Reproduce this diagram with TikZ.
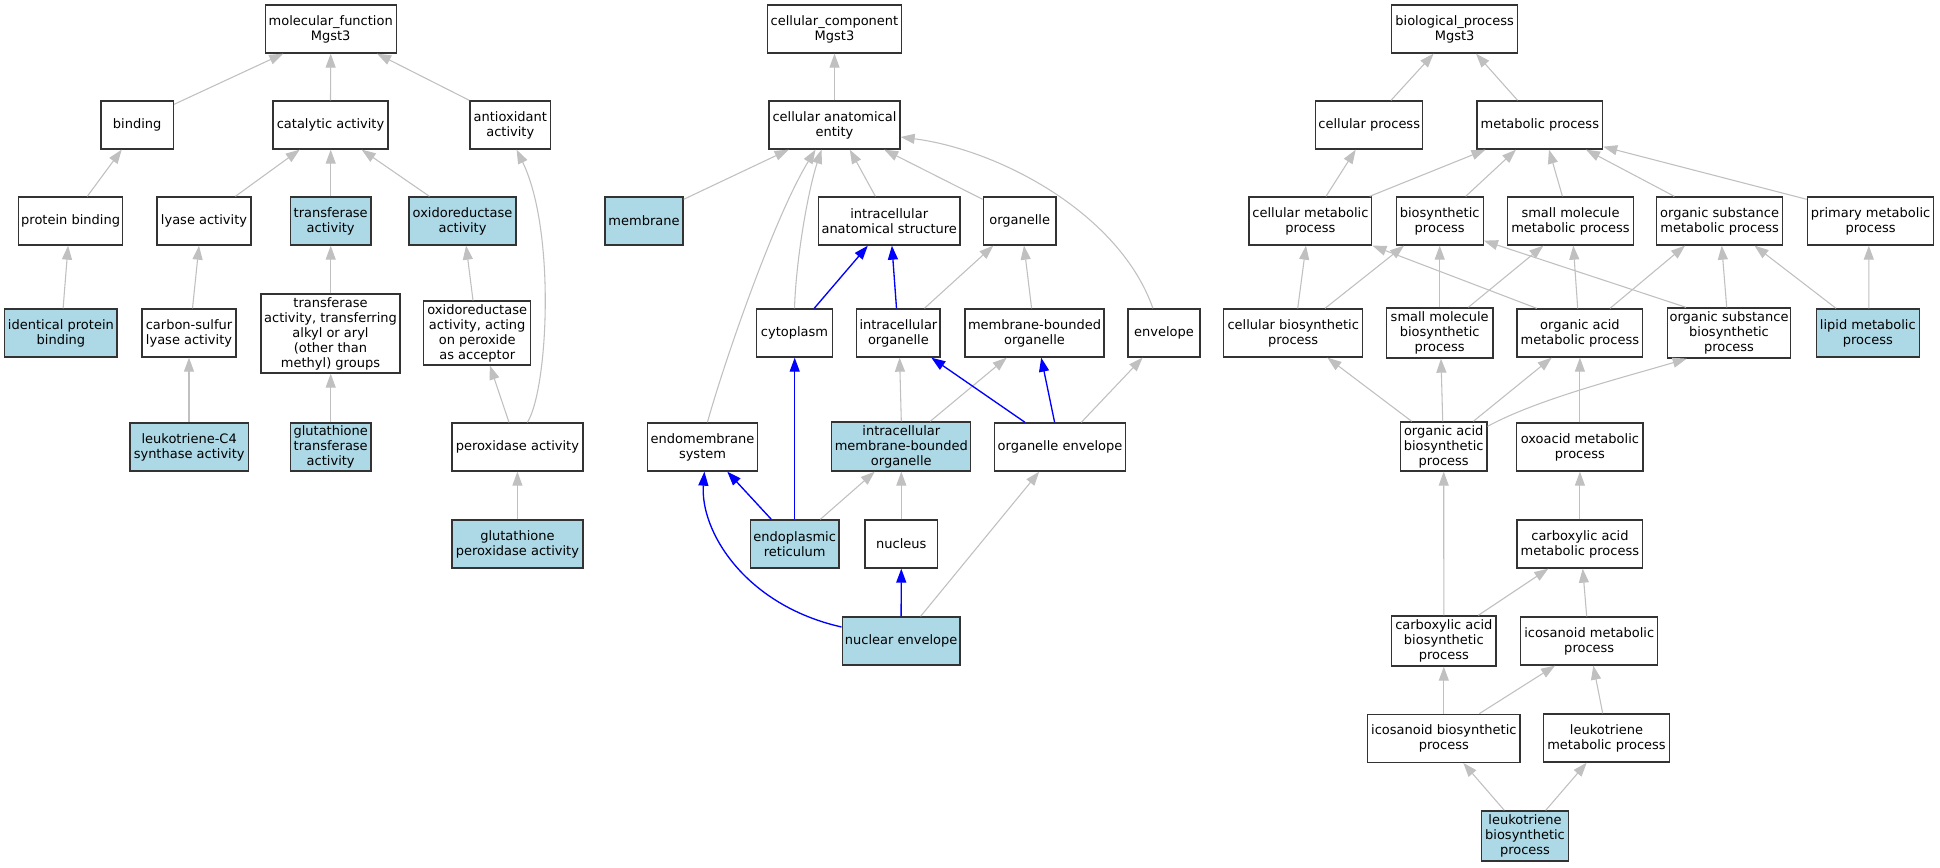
\documentclass[tikz,border=0pt]{standalone}
\usepackage{fontspec}
\setmainfont{DejaVu Sans}
\usetikzlibrary{arrows.meta,calc}
\definecolor{edgegray}{RGB}{192,192,192}
\definecolor{lb}{RGB}{173,216,230}
\tikzset{
  nd/.style={draw=black!80, line width=1pt, fill=white, inner sep=0pt, align=center,
    font=\fontsize{9.75}{11.25}\selectfont},
  hl/.style={fill=lb},
  bx/.style 2 args={minimum width={#1*0.75pt}, minimum height={#2*0.75pt}},
  ge/.style={draw=edgegray, line width=0.8pt, -{Triangle[length=10.5pt,width=7.5pt]}},
  be/.style={draw=blue, line width=1pt, -{Triangle[length=10.5pt,width=7.5pt]}}
}
\begin{document}
\begin{tikzpicture}[x=0.75pt,y=-0.75pt]
\useasboundingbox (0,0) rectangle (1940,867);
\fill[white] (0,0) rectangle (1940,867);

% ---------------- molecular function ----------------
\node[nd,bx={131}{48}] (mf) at (330.7,29) {molecular\_function\\Mgst3};
\node[nd,bx={72.4}{48}] (binding) at (137.2,125) {binding};
\node[nd,bx={115}{48}] (catalytic) at (330.5,125) {catalytic activity};
\node[nd,bx={80.7}{48}] (antiox) at (510.3,125) {antioxidant\\activity};
\node[nd,bx={104.4}{48}] (protbind) at (70.6,221) {protein binding};
\node[nd,bx={94}{48}] (lyase) at (204,221) {lyase activity};
\node[nd,hl,bx={80.3}{48}] (transf) at (330.7,221) {transferase\\activity};
\node[nd,hl,bx={106.8}{48}] (oxidored) at (462.5,221) {oxidoreductase\\activity};
\node[nd,hl,bx={112.5}{48}] (identical) at (60.9,333) {identical protein\\binding};
\node[nd,bx={94}{48}] (csulfur) at (189,333) {carbon-sulfur\\lyase activity};
\node[nd,bx={139}{79}] (transtrans) at (330.5,333.5) {transferase\\activity, transferring\\alkyl or aryl\\(other than\\methyl) groups};
\node[nd,bx={107.2}{64}] (oxacting) at (477.2,333) {oxidoreductase\\activity, acting\\on peroxide\\as acceptor};
\node[nd,hl,bx={118.3}{48}] (ltc4) at (189.2,447) {leukotriene-C4\\synthase activity};
\node[nd,hl,bx={80.3}{48}] (gstrans) at (330.7,447) {glutathione\\transferase\\activity};
\node[nd,bx={131}{48}] (perox) at (517.4,447) {peroxidase activity};
\node[nd,hl,bx={131}{48}] (gsperox) at (517.4,544) {glutathione\\peroxidase activity};

% ---------------- cellular component ----------------
\node[nd,bx={134}{48}] (cc) at (834.5,29) {cellular\_component\\Mgst3};
\node[nd,bx={131}{48}] (cae) at (834.5,125) {cellular anatomical\\entity};
\node[nd,hl,bx={78}{48}] (membrane) at (644,221) {membrane};
\node[nd,bx={141.6}{48}] (ias) at (889.2,221) {intracellular\\anatomical structure};
\node[nd,bx={72.7}{48}] (organelle) at (1019.7,221) {organelle};
\node[nd,bx={75.4}{48}] (cytoplasm) at (794.5,333) {cytoplasm};
\node[nd,bx={83.4}{48}] (intorg) at (898.4,333) {intracellular\\organelle};
\node[nd,bx={139}{48}] (mbo) at (1034.5,333) {membrane-bounded\\organelle};
\node[nd,bx={72}{48}] (envelope) at (1164,333) {envelope};
\node[nd,bx={109.5}{48}] (endomem) at (702.5,447) {endomembrane\\system};
\node[nd,hl,bx={139}{49}] (imbo) at (901.3,446.5) {intracellular\\membrane-bounded\\organelle};
\node[nd,bx={130.8}{48}] (orgenv) at (1060,447) {organelle envelope};
\node[nd,hl,bx={88.8}{48}] (er) at (794.7,544) {endoplasmic\\reticulum};
\node[nd,bx={72.3}{48}] (nucleus) at (901.3,544) {nucleus};
\node[nd,hl,bx={117.8}{48}] (nucenv) at (901.1,641) {nuclear envelope};

% ---------------- biological process ----------------
\node[nd,bx={126}{48}] (bp) at (1454.6,29) {biological\_process\\Mgst3};
\node[nd,bx={107}{48}] (cellproc) at (1369.2,125) {cellular process};
\node[nd,bx={125.5}{48}] (metproc) at (1539.8,125) {metabolic process};
\node[nd,bx={122.8}{48}] (cellmet) at (1310.4,221) {cellular metabolic\\process};
\node[nd,bx={87}{48}] (biosyn) at (1439.7,221) {biosynthetic\\process};
\node[nd,bx={125.5}{48}] (smallmet) at (1570.5,221) {small molecule\\metabolic process};
\node[nd,bx={125.6}{48}] (orgsubmet) at (1719.6,221) {organic substance\\metabolic process};
\node[nd,bx={126.4}{48}] (primmet) at (1870.6,221) {primary metabolic\\process};
\node[nd,bx={139.2}{48}] (cellbio) at (1293.2,333) {cellular biosynthetic\\process};
\node[nd,bx={106.6}{50}] (smallbio) at (1439.7,333) {small molecule\\biosynthetic\\process};
\node[nd,bx={125.6}{48}] (orgacidmet) at (1579.9,333) {organic acid\\metabolic process};
\node[nd,bx={122.7}{50}] (orgsubbio) at (1729,333) {organic substance\\biosynthetic\\process};
\node[nd,hl,bx={103}{48}] (lipid) at (1867.8,333) {lipid metabolic\\process};
\node[nd,bx={86.3}{49}] (orgacidbio) at (1443.7,446.5) {organic acid\\biosynthetic\\process};
\node[nd,bx={126.4}{48}] (oxoacid) at (1579.9,447) {oxoacid metabolic\\process};
\node[nd,bx={125.6}{48}] (carbmet) at (1579.9,544) {carboxylic acid\\metabolic process};
\node[nd,bx={104.3}{50}] (carbbio) at (1443.8,641) {carboxylic acid\\biosynthetic\\process};
\node[nd,bx={137}{48}] (icomet) at (1589.2,641) {icosanoid metabolic\\process};
\node[nd,bx={152.3}{48}] (icobio) at (1443.8,738.3) {icosanoid biosynthetic\\process};
\node[nd,bx={125.6}{48}] (ltmet) at (1606.5,738) {leukotriene\\metabolic process};
\node[nd,hl,bx={86.6}{50}] (ltbio) at (1525,836) {leukotriene\\biosynthetic\\process};

% ---------------- MF edges ----------------
\draw[ge] ($(binding.north east)+(0,4)$) -- ($(mf.south)+(-47.5,0)$);
\draw[ge] (catalytic.north) -- (mf.south);
\draw[ge] (antiox.north west) -- ($(mf.south)+(46.3,0)$);
\draw[ge] ($(protbind.north)+(16.7,0)$) -- ($(binding.south)+(-15.5,0)$);
\draw[ge] ($(lyase.north)+(31.4,0)$) -- ($(catalytic.south)+(-30.8,0)$);
\draw[ge] (transf.north) -- (transf.north |- catalytic.south);
\draw[ge] ($(oxidored.north)+(-33.1,0)$) -- ($(catalytic.south)+(31.2,0)$);
\draw[ge] ($(identical.north)+(2.2,0)$) -- ($(protbind.south)+(-2.5,0)$);
\draw[ge] ($(csulfur.north)+(3.5,0)$) -- ($(lyase.south)+(-5,0)$);
\draw[ge] (transf.south |- transtrans.north) -- (transf.south);
\draw[ge] ($(oxacting.north)+(-4.2,0)$) -- ($(oxidored.south)+(3.6,0)$);
\draw[ge] ($(perox.north)+(10,0)$) .. controls ($(perox.north)+(30.6,-33)$) and ($(antiox.south)+(45.7,81)$) .. ($(antiox.south)+(6.3,0)$);
\draw[ge] (csulfur.south |- ltc4.north) -- (csulfur.south);
\draw[ge] (gstrans.north) -- (gstrans.north |- transtrans.south);
\draw[ge] ($(perox.north)+(-8.4,0)$) -- ($(oxacting.south)+(12.7,0)$);
\draw[ge] (gsperox.north) -- (perox.south);

% ---------------- CC edges (gray) ----------------
\draw[ge] (cae.north) -- (cc.south);
\draw[ge] ($(membrane.north east)+(0,3)$) -- ($(cae.south)+(-45.9,0)$);
\draw[ge] ($(endomem.north)+(4.9,0)$) .. controls ($(endomem.north)+(22.5,-63)$) and ($(cae.south)+(-59.5,66)$) .. ($(cae.south)+(-19,0)$);
\draw[ge] (cytoplasm.north) .. controls ($(cytoplasm.north)+(1.5,-49)$) and ($(cae.south)+(-26.5,41)$) .. ($(cae.south)+(-13,0)$);
\draw[ge] ($(ias.north)+(-13.8,0)$) -- ($(cae.south)+(15.3,0)$);
\draw[ge] ($(organelle.north west)+(0,3)$) -- ($(cae.south)+(49.7,0)$);
\draw[ge] ($(envelope.north)+(-11.1,0)$) .. controls ($(envelope.north)+(-44,-94)$) and ($(cae.east)+(100,25)$) .. ($(cae.east)+(0,12)$);
\draw[ge] ($(intorg.north)+(26,0)$) -- ($(organelle.south)+(-26.4,0)$);
\draw[ge] ($(mbo.north)+(-2.9,0)$) -- ($(organelle.south)+(4.3,0)$);
\draw[ge] ($(er.north)+(25.6,0)$) -- ($(imbo.south)+(-26.6,0)$);
\draw[ge] (nucleus.north) -- (imbo.south);
\draw[ge] (imbo.north) -- ($(intorg.south)+(1.2,0)$);
\draw[ge] ($(imbo.north)+(28.9,0)$) -- ($(mbo.south)+(-27.8,0)$);
\draw[ge] ($(orgenv.north)+(21.3,0)$) -- ($(envelope.south)+(-21.4,0)$);
\draw[ge] ($(nucenv.north)+(19.5,0)$) -- ($(orgenv.south)+(-20.8,0)$);

% ---------------- CC edges (blue) ----------------
\draw[be] ($(cytoplasm.north)+(19.7,0)$) -- ($(ias.south)+(-21.4,0)$);
\draw[be] ($(intorg.north)+(-1.9,0)$) -- ($(ias.south)+(2.7,0)$);
\draw[be] ($(er.north)+(-23.4,0)$) -- ($(endomem.south)+(24.8,0)$);
\draw[be] (er.north) -- (er.north |- cytoplasm.south);
\draw[be] ($(orgenv.north)+(-35,0)$) -- ($(intorg.south)+(32.9,0)$);
\draw[be] ($(orgenv.north)+(-5.4,0)$) -- ($(mbo.south)+(6.7,0)$);
\draw[be] ($(nucenv.west)+(0,-14)$) .. controls ($(nucenv.west)+(-97.2,-36)$) and ($(endomem.south)+(-2.5,59)$) .. ($(endomem.south)+(1.9,0)$);
\draw[be] (nucenv.north) -- (nucleus.south);

% ---------------- BP edges ----------------
\draw[ge] ($(cellproc.north)+(21.8,0)$) -- ($(bp.south)+(-21,0)$);
\draw[ge] ($(metproc.north)+(-22.2,0)$) -- ($(bp.south)+(21.4,0)$);
\draw[ge] ($(cellmet.north)+(15.6,0)$) -- ($(cellproc.south)+(-13.5,0)$);
\draw[ge] ($(cellmet.north east)+(-2.8,0)$) -- ($(metproc.south)+(-54.3,0)$);
\draw[ge] ($(biosyn.north)+(26,0)$) -- ($(metproc.south)+(-23.8,0)$);
\draw[ge] ($(smallmet.north)+(-8.1,0)$) -- ($(metproc.south)+(9.2,0)$);
\draw[ge] ($(orgsubmet.north)+(-45.3,0)$) -- ($(metproc.south)+(46.2,0)$);
\draw[ge] ($(primmet.north west)+(0,3)$) -- ($(metproc.south east)+(0,-3)$);
\draw[ge] ($(cellbio.north)+(4.5,0)$) -- ($(cellmet.south)+(-4.4,0)$);
\draw[ge] ($(cellbio.north)+(31.8,0)$) -- ($(biosyn.south)+(-35.7,0)$);
\draw[ge] (smallbio.north) -- (biosyn.south);
\draw[ge] ($(smallbio.north)+(28.6,0)$) -- ($(smallmet.south)+(-27.2,0)$);
\draw[ge] ($(orgacidmet.north)+(-43.2,0)$) -- (cellmet.south east);
\draw[ge] ($(orgacidmet.north)+(-2.2,0)$) -- ($(smallmet.south)+(2.8,0)$);
\draw[ge] ($(orgacidmet.north)+(30.1,0)$) -- ($(orgsubmet.south)+(-34.6,0)$);
\draw[ge] ($(orgsubbio.north)+(-43,0)$) -- ($(biosyn.south east)+(0,-5)$);
\draw[ge] ($(orgsubbio.north)+(-2.3,0)$) -- ($(orgsubmet.south)+(2.1,0)$);
\draw[ge] ($(lipid.north)+(-31.8,0)$) -- ($(orgsubmet.south)+(34.9,0)$);
\draw[ge] ($(lipid.north)+(1,0)$) -- ($(primmet.south)+(-1.8,0)$);
\draw[ge] ($(orgacidbio.north)+(-32,0)$) -- ($(cellbio.south)+(34.2,0)$);
\draw[ge] ($(orgacidbio.north)+(-1,0)$) -- ($(smallbio.south)+(1.3,0)$);
\draw[ge] ($(orgacidbio.north)+(29.6,0)$) -- ($(orgacidmet.south)+(-28.2,0)$);
\draw[ge] ($(orgacidbio.north east)+(0,5)$) .. controls ($(orgacidbio.north east)+(50,-22)$) and ($(orgsubbio.south)+(-110,20)$) .. ($(orgsubbio.south)+(-42.3,0)$);
\draw[ge] (oxoacid.north) -- (orgacidmet.south);
\draw[ge] (carbmet.north) -- (oxoacid.south);
\draw[ge] (carbbio.north) -- (orgacidbio.south);
\draw[ge] ($(carbbio.north)+(34.5,0)$) -- ($(carbmet.south)+(-31.6,0)$);
\draw[ge] ($(icomet.north)+(-2.5,0)$) -- ($(carbmet.south)+(2.8,0)$);
\draw[ge] (icobio.north) -- (carbbio.south);
\draw[ge] ($(icobio.north)+(35.5,0)$) -- ($(icomet.south)+(-34.2,0)$);
\draw[ge] ($(ltmet.north)+(-3.8,0)$) -- ($(icomet.south)+(4.1,0)$);
\draw[ge] ($(ltbio.north)+(-20.7,0)$) -- ($(icobio.south)+(19.5,0)$);
\draw[ge] ($(ltbio.north)+(20.7,0)$) -- ($(ltmet.south)+(-19.8,0)$);
\end{tikzpicture}
\end{document}
